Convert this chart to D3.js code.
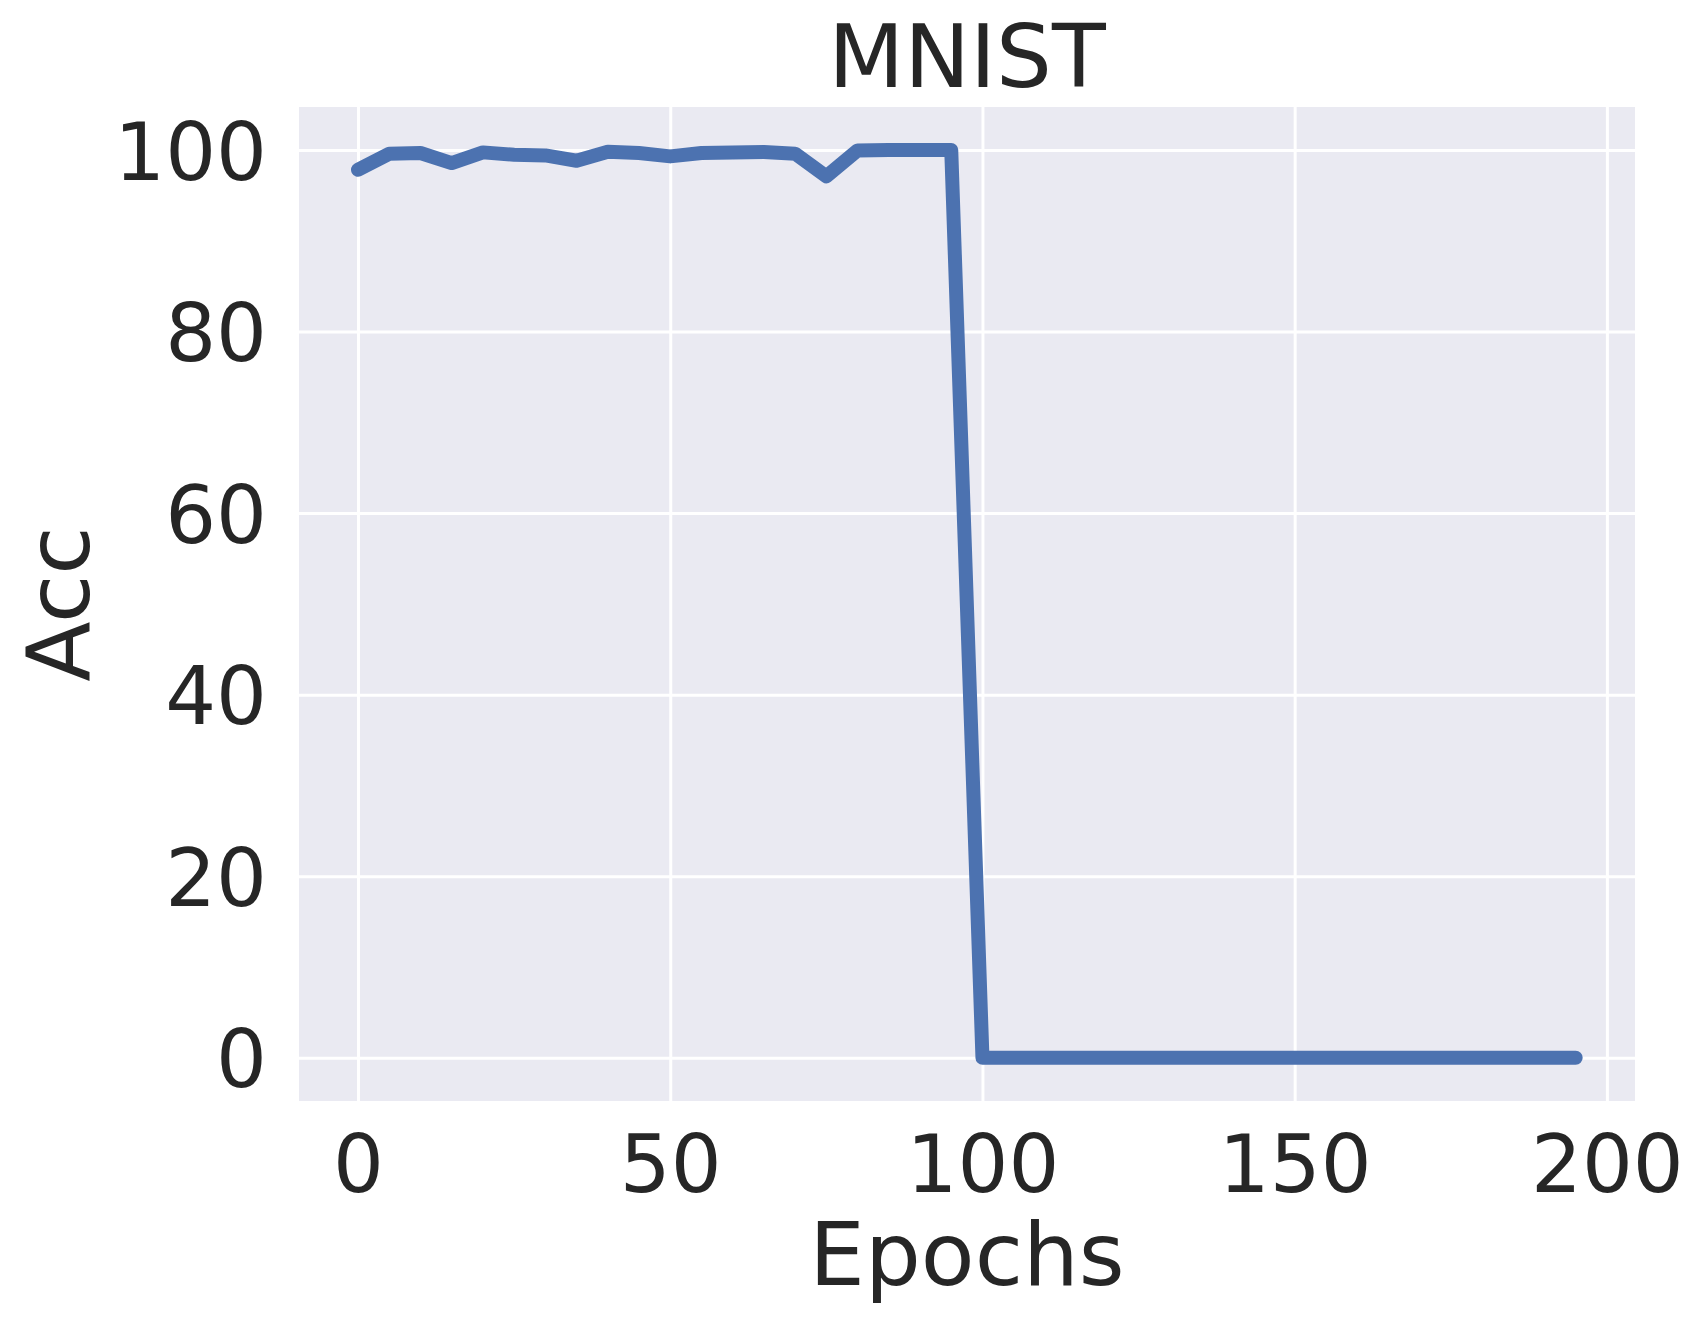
<!DOCTYPE html>
<html>
<head>
<meta charset="utf-8">
<script src="https://d3js.org/d3.v7.min.js"></script>
<style>
  body { margin: 0; background: #fff; }
  text { font-family: "DejaVu Sans", sans-serif; fill: #262626; }
</style>
</head>
<body>
<div id="chart"></div>
<script>
// accuracy per epoch, sampled every 5 epochs
var epochs = d3.range(0, 200, 5);
var acc = [97.83, 99.59, 99.67, 98.56, 99.74, 99.48, 99.4, 98.82, 99.81, 99.67,
           99.3, 99.67, 99.74, 99.78, 99.6, 97.1, 99.95, 100, 100, 100,
           0, 0, 0, 0, 0, 0, 0, 0, 0, 0,
           0, 0, 0, 0, 0, 0, 0, 0, 0, 0];
var xTicks = [0, 50, 100, 150, 200];
var yTicks = [0, 20, 40, 60, 80, 100];

var data = epochs.map(function(e, i) { return {Epoch: e, Acc: acc[i]}; });

var margin = {top: 107, right: 69, bottom: 224, left: 299},
    width = 1704 - margin.left - margin.right,
    height = 1325 - margin.top - margin.bottom

var svg = d3.select("#chart")
    .append("svg")
        .attr("width", 1704)
        .attr("height", 1325)
    .append("g")
        .attr("transform",
            "translate(" + margin.left + "," + margin.top + ")");

var x = d3.scaleLinear().domain([-9.45, 204.5]).range([0, width]);
var y = d3.scaleLinear().domain([-4.77, 104.74]).range([height, 0]);

svg.append("rect")
    .attr("width", width)
    .attr("height", height)
    .attr("fill", "#EAEAF2")

// grid
svg.append("g")
    .attr("transform", "translate(0," + height + ")")
    .call(d3.axisBottom(x).tickValues(xTicks).tickSize(-height).tickFormat(""))
    .call(g => g.select(".domain").remove())
    .call(g => g.selectAll("line").attr("stroke", "#fff").attr("stroke-width", 3))

svg.append("g")
    .call(d3.axisLeft(y).tickValues(yTicks).tickSize(-width).tickFormat(""))
    .call(g => g.select(".domain").remove())
    .call(g => g.selectAll("line").attr("stroke", "#fff").attr("stroke-width", 3))

// tick labels
svg.append("g")
    .attr("transform", "translate(0," + height + ")")
    .call(d3.axisBottom(x).tickValues(xTicks).tickSize(0).tickPadding(0))
    .call(g => g.select(".domain").remove())
    .call(g => g.selectAll("text")
        .attr("y", 91)
        .attr("dy", null)
        .style("font-size", "80px")
        .style("font-family", "DejaVu Sans")
        .attr("fill", "#262626"))

svg.append("g")
    .call(d3.axisLeft(y).tickValues(yTicks).tickSize(0).tickPadding(0))
    .call(g => g.select(".domain").remove())
    .call(g => g.selectAll("text")
        .attr("x", -32)
        .attr("dy", 29)
        .style("font-size", "80px")
        .style("font-family", "DejaVu Sans")
        .attr("fill", "#262626"))

var line = d3.line()
    .x(function(d) { return x(d.Epoch); })
    .y(function(d) { return y(d.Acc); });

svg.append("path")
    .datum(data)
    .attr("d", line)
    .attr("fill", "none")
    .attr("stroke", "#4C72B0")
    .attr("stroke-width", 14)
    .attr("stroke-linejoin", "round")
    .attr("stroke-linecap", "round")

svg.append("text")
    .attr("text-anchor", "middle")
    .attr("x", width / 2)
    .attr("y", 87 - margin.top)
    .style("font-size", "88px")
    .text("MNIST")

svg.append("text")
    .attr("text-anchor", "middle")
    .attr("x", width / 2)
    .attr("y", 1285 - margin.top)
    .style("font-size", "88px")
    .text("Epochs")

svg.append("text")
    .attr("text-anchor", "middle")
    .attr("transform", "translate(" + (89 - margin.left) + "," + (height / 2) + ") rotate(-90)")
    .style("font-size", "88px")
    .text("Acc");
</script>
</body>
</html>
